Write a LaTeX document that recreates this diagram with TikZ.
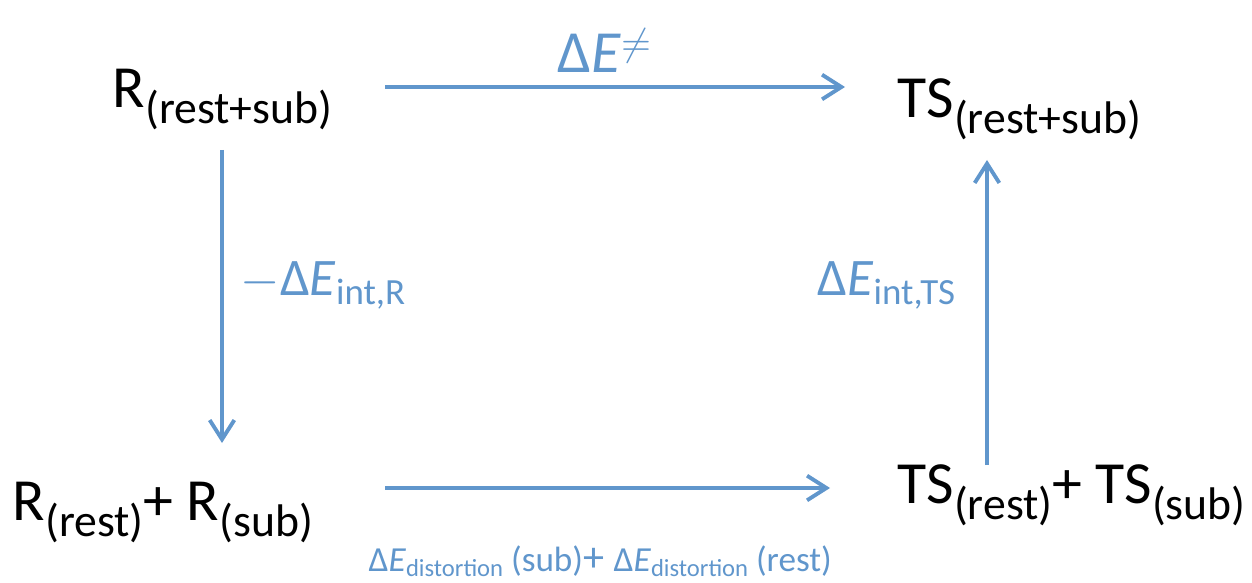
\documentclass[tikz,border=0pt]{standalone}
\usepackage{fontspec}
\setmainfont{Carlito}
\usepackage{tikz}
\usetikzlibrary{arrows.meta}

\definecolor{flowblue}{RGB}{96,150,204}
\newcommand{\subtxt}[1]{\raisebox{-4.6pt}{\fontsize{13}{15}\selectfont #1}}

\begin{document}
\begin{tikzpicture}[x=0.01cm,y=-0.01cm,
  every node/.style={inner sep=0pt,anchor=base west},
  state/.style={font=\fontsize{17}{20}\selectfont,text=black},
  energy/.style={font=\fontsize{15}{18}\selectfont,text=flowblue},
  smallenergy/.style={font=\fontsize{10}{12}\selectfont,text=flowblue},
  flow/.style={-{Straight Barb[length=5.5pt,width=7pt,line width=1.1pt]},
    line width=1.2pt,draw=flowblue}]
  \useasboundingbox (0,0) rectangle (1252,582);
  % species
  \node[state] (rs) at (112,107) {R\subtxt{(rest+sub)}};
  \node[state] (ts) at (897,117) {TS\subtxt{(rest+sub)}};
  \node[state] (rr) at (12,520) {R\subtxt{(rest)}+ R\subtxt{(sub)}};
  \node[state] (tt) at (897,503) {TS\subtxt{(rest)}+ TS\subtxt{(sub)}};
  % energy labels
  \node[energy,font=\fontsize{17}{20}\selectfont] (barrier) at (557,73) {Δ\textit{E}\raisebox{5pt}{\fontsize{11}{11}\selectfont$\neq$}};
  \node[energy] (intR) at (240,295) {$-$Δ\textit{E}\raisebox{-2.8pt}{\fontsize{10.5}{12}\selectfont int,R}};
  \node[energy] (intTS) at (817,295) {Δ\textit{E}\raisebox{-2.8pt}{\fontsize{10.5}{12}\selectfont int,TS}};
  \node[smallenergy] (dist) at (368,571) {Δ\textit{E}\raisebox{-1.5pt}{\fontsize{7}{8}\selectfont distortion} (sub)\fontsize{12}{12}\selectfont+ \fontsize{10}{12}\selectfont Δ\textit{E}\raisebox{-1.5pt}{\fontsize{7}{8}\selectfont distortion} (rest)};
  % arrow ends
  \coordinate (topL) at (385,87);
  \coordinate (topR) at (845,87);
  \coordinate (leftT) at (222,150);
  \coordinate (leftB) at (222,443);
  \coordinate (rightB) at (987,465);
  \coordinate (rightT) at (987,160);
  \coordinate (botL) at (385,488);
  \coordinate (botR) at (830,488);
  \draw[flow] (topL) -- (topR);
  \draw[flow] (leftT) -- (leftB);
  \draw[flow] (rightB) -- (rightT);
  \draw[flow] (botL) -- (botR);
\end{tikzpicture}
\end{document}
